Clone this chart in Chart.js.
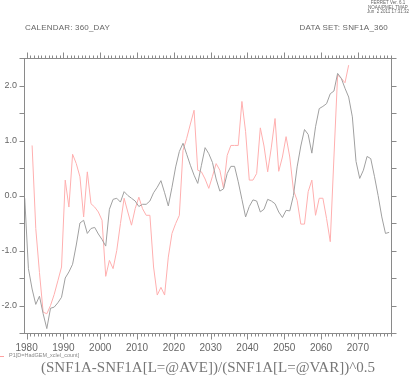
<!DOCTYPE html>
<html>
<head>
<meta charset="utf-8">
<script src="https://cdn.jsdelivr.net/npm/chart.js@4.4.1/dist/chart.umd.min.js"></script>
<style>
  html, body { margin: 0; padding: 0; background: #fff; }
  #wrap { position: relative; width: 414px; height: 376px; overflow: hidden; }
  #wrap canvas { position: absolute; left: 0; top: 0; }
  .t { position: absolute; white-space: nowrap; color: #666; font-family: "Liberation Sans", Arial, sans-serif; line-height: 1; }
</style>
</head>
<body>
<div id="wrap">
  <canvas id="myChart" width="414" height="376"></canvas>
  <div class="t" style="left:360px;top:1px;width:56px;text-align:center;font-size:4.5px;line-height:4.6px;">FERRET Ver. 6.1<br>NOAA/PMEL TMAP<br>Jun&nbsp; 2 2011 17:31:32</div>
  <div class="t" style="left:25px;top:24px;font-size:8px;letter-spacing:0.2px;">CALENDAR: 360_DAY</div>
  <div class="t" style="right:26px;top:24px;font-size:8px;letter-spacing:0.2px;">DATA SET: SNF1A_360</div>
  <div style="position:absolute;left:0;top:356px;width:4px;height:1px;background:#ffa0a0;"></div>
  <div class="t" style="left:9px;top:353px;font-size:5.5px;color:#888;">P1[D=HadGEM_xclel_count]</div>
  <div class="t" style="left:0;width:416px;top:360px;text-align:center;font-family:'Liberation Serif',serif;font-size:15px;color:#777;">(SNF1A-SNF1A[L=@AVE])/(SNF1A[L=@VAR])^0.5</div>
</div>
<script>
// annual values, first year 1979, plotted at mid-year
const firstYear = 1979;

const grayVals = [
  -0.05, -1.33, -1.7, -1.98, -1.83, -2.15, -2.42, -2.05, -2.03, -1.95,
  -1.85, -1.5, -1.39, -1.25, -0.9, -0.5, -0.45, -0.69, -0.6, -0.58,
  -0.7, -0.8, -0.92, -0.25, -0.07, -0.05, -0.12, 0.07, 0.0, -0.05,
  -0.1, -0.2, -0.16, -0.16, -0.1, 0.05, 0.15, 0.27, 0.05, -0.19,
  0.15, 0.52, 0.8, 0.95, 0.75, 0.55, 0.37, 0.22, 0.55, 0.87,
  0.76, 0.6, 0.3, 0.08, 0.12, 0.4, 0.53, 0.53, 0.25, -0.07,
  -0.39, -0.2, -0.08, -0.1, -0.3, -0.25, -0.07, -0.1, -0.15, -0.3,
  -0.4, -0.27, -0.28, 0.0, 0.52, 0.9, 1.2, 1.11, 0.77, 1.25,
  1.58, 1.62, 1.67, 1.85, 1.9, 2.22, 2.13, 1.95, 1.79, 1.43,
  0.62, 0.31, 0.46, 0.71, 0.67, 0.35, 0.0, -0.39, -0.69, -0.67
];

const redVals = [
  null, null, 0.91, -0.6, -1.4, -2.12, -2.15, -2.0, -1.8, -1.55,
  -1.3, 0.28, -0.21, 0.75, 0.58, 0.34, -0.39, 0.43, -0.15, -0.21,
  -0.3, -0.45, -1.47, -1.18, -1.33, -1.0, -0.51, -0.05, -0.3, -0.54,
  -0.24, -0.03, -0.24, -0.36, -0.36, -1.3, -1.81, -1.67, -1.81, -1.12,
  -0.69, -0.51, -0.36, 0.82, 1.04, 1.3, 1.55, 0.46, 0.43, 0.3,
  0.13, 0.35, 0.58, 0.46, 0.13, 0.73, 0.91, 0.91, 0.91, 1.71,
  1.16, 0.28, 0.28, 0.4, 1.23, 0.9, 0.43, 0.88, 1.4, 0.44,
  0.7, 1.07, 0.7, 0.1, -0.09, -0.52, -0.52, 0.07, 0.28, -0.36,
  -0.05, -0.05, -0.42, -0.84, 0.7, 2.19, 2.13, 2.05, 2.37
];

const xTickYears = [1980, 1990, 2000, 2010, 2020, 2030, 2040, 2050, 2060, 2070];
const yTickVals = [-2, -1, 0, 1, 2];

function toPoints(vals) {
  return vals.map((v, i) => ({ x: firstYear + i + 0.5, y: v }));
}

const axisColor = '#8a8a8a';

// frame + minor/major ticks like the ferret plot
const frameTicks = {
  id: 'frameTicks',
  afterDraw(chart) {
    const ctx = chart.ctx;
    const a = chart.chartArea;
    const xs = chart.scales.x, ys = chart.scales.y;
    ctx.save();
    ctx.strokeStyle = axisColor;
    ctx.lineWidth = 1;
    ctx.strokeRect(Math.round(a.left) + 0.5, Math.round(a.top) + 0.5,
      Math.round(a.right - a.left), Math.round(a.bottom - a.top));
    ctx.beginPath();
    for (let yr = Math.ceil(xs.min); yr <= Math.floor(xs.max); yr++) {
      const p = Math.round(xs.getPixelForValue(yr)) + 0.5;
      const len = (yr % 10 === 0) ? 6 : 3;
      ctx.moveTo(p, Math.round(a.top) + 0.5);
      ctx.lineTo(p, Math.round(a.top) + 0.5 - len);
      ctx.moveTo(p, Math.round(a.bottom) + 0.5);
      ctx.lineTo(p, Math.round(a.bottom) + 0.5 + len);
    }
    for (let v = -2.5; v <= 2.5; v += 0.5) {
      const p = Math.round(ys.getPixelForValue(v)) + 0.5;
      ctx.moveTo(Math.round(a.left) + 0.5, p);
      ctx.lineTo(Math.round(a.left) + 0.5 - 5, p);
      ctx.moveTo(Math.round(a.right) + 0.5, p);
      ctx.lineTo(Math.round(a.right) + 0.5 + 5, p);
    }
    ctx.stroke();
    ctx.restore();
  }
};

const ctx = document.getElementById('myChart');
const myChart = new Chart(ctx, {
  type: 'line',
  data: {
    datasets: [
      {
        label: 'gray',
        data: toPoints(grayVals),
        borderColor: 'rgb(160,160,160)',
        borderWidth: 1,
        pointRadius: 0,
        tension: 0
      },
      {
        label: 'P1[D=HadGEM_xclel_count]',
        data: toPoints(redVals),
        borderColor: 'rgb(255,175,175)',
        borderWidth: 1,
        pointRadius: 0,
        tension: 0,
        spanGaps: false
      }
    ]
  },
  plugins: [frameTicks],
  options: {
    responsive: false,
    animation: false,
    events: [],
    layout: { padding: { left: 0, top: 58, right: 23, bottom: 23 } },
    plugins: { legend: { display: false }, tooltip: { enabled: false } },
    scales: {
      x: {
        type: 'linear',
        min: 1979.3,
        max: 2079.0,
        afterBuildTicks: (s) => { s.ticks = xTickYears.map(v => ({ value: v })); },
        afterFit: (s) => { s.height = 20; },
        grid: { display: false, drawTicks: false },
        border: { display: false },
        ticks: {
          padding: 9,
          maxRotation: 0,
          autoSkip: false,
          color: '#666',
          font: { family: 'Liberation Sans', size: 10 },
          callback: (v) => String(v)
        }
      },
      y: {
        min: -2.5,
        max: 2.5,
        afterBuildTicks: (s) => { s.ticks = yTickVals.map(v => ({ value: v })); },
        afterFit: (s) => { s.width = 24; },
        grid: { display: false, drawTicks: false },
        border: { display: false },
        ticks: {
          padding: 7,
          color: '#666',
          font: { family: 'Liberation Sans', size: 9 },
          callback: (v) => v.toFixed(1)
        }
      }
    }
  }
});
</script>
</body>
</html>
